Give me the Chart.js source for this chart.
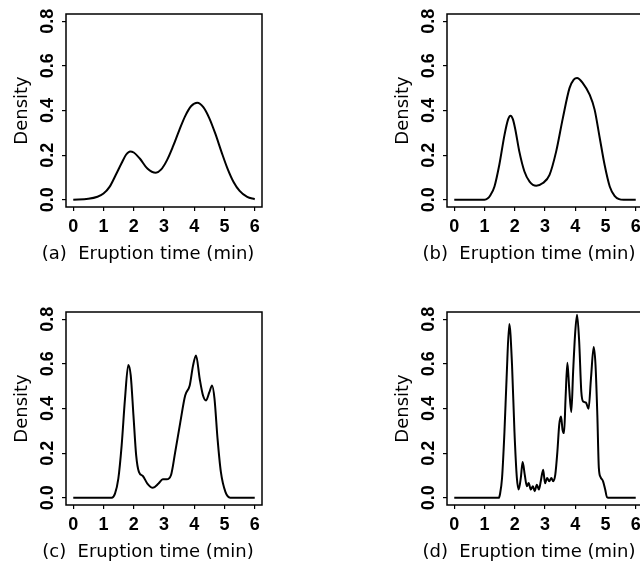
<!DOCTYPE html>
<html>
<head>
<meta charset="utf-8">
<script src="https://cdn.jsdelivr.net/npm/chart.js@4.4.1/dist/chart.umd.min.js"></script>
<style>
  html, body { margin: 0; padding: 0; background: #fff; width: 640px; height: 565px; overflow: hidden; }
  canvas { position: absolute; }
</style>
</head>
<body>
<canvas id="ca" width="320" height="265" style="left:0px;top:0px"></canvas>
<canvas id="cb" width="320" height="265" style="left:381px;top:0px"></canvas>
<canvas id="cc" width="320" height="265" style="left:0px;top:298px"></canvas>
<canvas id="cd" width="320" height="265" style="left:381px;top:298px"></canvas>
<script>
// ---- data ----
const xTicks = [0, 1, 2, 3, 4, 5, 6];
const xTickLabels = ["0", "1", "2", "3", "4", "5", "6"];
const yTicks = [0, 0.2, 0.4, 0.6, 0.8];
const yTickLabels = ["0.0", "0.2", "0.4", "0.6", "0.8"];
const yTitle = "Density";
const panelTitles = ["(a)  Eruption time (min)", "(b)  Eruption time (min)", "(c)  Eruption time (min)", "(d)  Eruption time (min)"];

const xA = [0, 0.5, 0.8, 1.0, 1.2, 1.4, 1.6, 1.75, 1.88, 2.0, 2.2, 2.45, 2.73, 2.9, 3.1, 3.3, 3.5, 3.7, 3.9, 4.1, 4.3, 4.5, 4.7, 4.9, 5.1, 5.3, 5.5, 5.75, 6.0];
const yA = [0.001, 0.005, 0.014, 0.028, 0.058, 0.11, 0.165, 0.203, 0.217, 0.212, 0.185, 0.14, 0.121, 0.135, 0.178, 0.24, 0.31, 0.375, 0.42, 0.435, 0.415, 0.365, 0.295, 0.215, 0.14, 0.08, 0.04, 0.013, 0.003];

const xB = [0, 1.0, 1.1, 1.2, 1.33, 1.49, 1.66, 1.78, 1.86, 1.94, 2.02, 2.15, 2.32, 2.49, 2.71, 2.93, 3.15, 3.37, 3.59, 3.81, 3.95, 4.06, 4.25, 4.48, 4.64, 4.81, 4.97, 5.14, 5.3, 5.45, 5.6, 6.0];
const yB = [0, 0.001, 0.006, 0.022, 0.06, 0.157, 0.29, 0.36, 0.377, 0.36, 0.314, 0.217, 0.127, 0.082, 0.063, 0.075, 0.112, 0.217, 0.366, 0.5, 0.538, 0.546, 0.523, 0.47, 0.404, 0.277, 0.157, 0.06, 0.018, 0.003, 0, 0];

const xC = [0, 1.27, 1.38, 1.49, 1.60, 1.71, 1.82, 1.90, 1.99, 2.08, 2.17, 2.30, 2.45, 2.63, 2.82, 2.96, 3.09, 3.23, 3.37, 3.54, 3.70, 3.85, 3.96, 4.06, 4.18, 4.29, 4.39, 4.50, 4.59, 4.67, 4.77, 4.88, 5.03, 5.19, 6.0];
const yC = [0, 0.001, 0.019, 0.086, 0.235, 0.443, 0.595, 0.548, 0.369, 0.19, 0.116, 0.098, 0.064, 0.045, 0.064, 0.083, 0.083, 0.101, 0.205, 0.339, 0.458, 0.503, 0.592, 0.637, 0.533, 0.458, 0.436, 0.473, 0.503, 0.443, 0.265, 0.116, 0.027, 0.001, 0];

const xD = [0, 1.47, 1.51, 1.58, 1.66, 1.73, 1.82, 1.91, 1.99, 2.07, 2.13, 2.20, 2.26, 2.33, 2.40, 2.46, 2.53, 2.60, 2.66, 2.73, 2.80, 2.86, 2.94, 3.00, 3.07, 3.14, 3.21, 3.27, 3.34, 3.41, 3.47, 3.53, 3.58, 3.63, 3.68, 3.74, 3.80, 3.87, 3.93, 4.00, 4.06, 4.13, 4.20, 4.26, 4.35, 4.44, 4.52, 4.61, 4.67, 4.73, 4.78, 4.84, 4.92, 4.99, 5.05, 5.14, 6.0];
const yD = [0, 0, 0.015, 0.089, 0.297, 0.535, 0.778, 0.595, 0.297, 0.089, 0.037, 0.089, 0.16, 0.104, 0.052, 0.067, 0.037, 0.052, 0.03, 0.059, 0.037, 0.074, 0.126, 0.065, 0.089, 0.074, 0.089, 0.074, 0.104, 0.208, 0.327, 0.364, 0.305, 0.29, 0.446, 0.605, 0.49, 0.384, 0.565, 0.743, 0.82, 0.70, 0.476, 0.431, 0.427, 0.399, 0.535, 0.675, 0.595, 0.372, 0.134, 0.092, 0.074, 0.037, 0.003, 0, 0];

// ---- chart construction ----
const frame = {
  id: 'frame',
  afterDraw(chart) {
    const { ctx, chartArea: { left, top, right, bottom } } = chart;
    ctx.save();
    ctx.strokeStyle = '#000';
    ctx.lineWidth = 1.5;
    ctx.strokeRect(left, top, right - left, bottom - top);
    ctx.restore();
  }
};

function makeChart(id, xs, ys, title) {
  const pts = xs.map((x, i) => ({ x: x, y: ys[i] }));
  return new Chart(document.getElementById(id), {
    type: 'line',
    data: { datasets: [{ data: pts, borderColor: '#000', borderWidth: 2, pointRadius: 0, fill: false, cubicInterpolationMode: 'monotone' }] },
    options: {
      responsive: false,
      animation: false,
      devicePixelRatio: 1,
      layout: { padding: { left: 34, right: 58, top: 14, bottom: 0 } },
      plugins: {
        legend: { display: false },
        tooltip: { enabled: false },
        title: {
          display: true, position: 'bottom', align: 'center', text: title, color: '#000', padding: 0,
          font: { family: 'DejaVu Sans', size: 18, weight: 'normal', lineHeight: 1.2 }
        }
      },
      scales: {
        x: {
          type: 'linear', min: -0.24, max: 6.24,
          afterBuildTicks: s => { s.ticks = xTicks.map(v => ({ value: v })); },
          afterFit: s => { s.height = 265 - 21.6 - 207; },
          ticks: { color: '#000', padding: 5, maxRotation: 0, font: { family: 'Liberation Sans', size: 18, weight: 'bold' },
                   callback: (v, i) => xTickLabels[i] },
          grid: { drawOnChartArea: false, drawTicks: true, tickLength: 4, color: '#000', lineWidth: 1.2 },
          border: { display: false }
        },
        y: {
          type: 'linear', min: -0.032, max: 0.832,
          afterBuildTicks: s => { s.ticks = yTicks.map(v => ({ value: v })); },
          afterFit: s => { s.width = 32; },
          ticks: { color: '#000', padding: 1, minRotation: 90, maxRotation: 90, crossAlign: 'center',
                   font: { family: 'Liberation Sans', size: 18, weight: 'bold' },
                   callback: (v, i) => yTickLabels[i] },
          grid: { drawOnChartArea: false, drawTicks: true, tickLength: 4, color: '#000', lineWidth: 1.2 },
          border: { display: false },
          title: { display: true, text: yTitle, color: '#000', padding: { top: -22, bottom: 0 },
                   font: { family: 'DejaVu Sans', size: 18, weight: 'normal', lineHeight: 1.2 } }
        }
      }
    },
    plugins: [frame]
  });
}

makeChart('ca', xA, yA, panelTitles[0]);
makeChart('cb', xB, yB, panelTitles[1]);
makeChart('cc', xC, yC, panelTitles[2]);
makeChart('cd', xD, yD, panelTitles[3]);
</script>
</body>
</html>
